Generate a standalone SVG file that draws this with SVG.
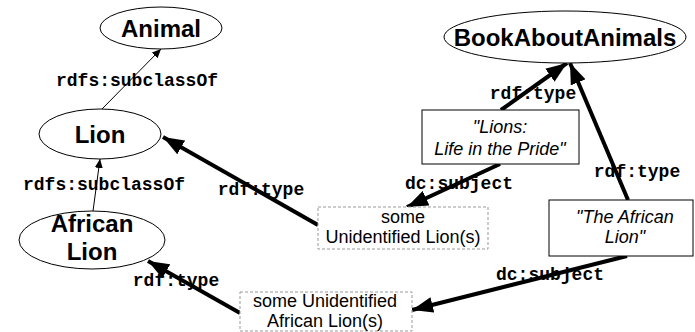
<svg xmlns="http://www.w3.org/2000/svg" width="695" height="332" viewBox="0 0 695 332">
<style>
.ell{fill:#fff;stroke:#000;stroke-width:1}
.box{fill:#fff;stroke:#000;stroke-width:1}
.dbox{fill:#fff;stroke:#999;stroke-width:1;stroke-dasharray:3,2}
.nt{font-family:"Liberation Sans",Arial,sans-serif;font-weight:bold;font-size:24px;text-anchor:middle;fill:#000}
.bt{font-family:"Liberation Sans",Arial,sans-serif;font-size:18px;text-anchor:middle;fill:#000}
.it{font-style:italic}
.lb{font-family:"Liberation Mono","Courier New",monospace;font-weight:bold;font-size:18px;text-anchor:middle;fill:#000}
.thin{stroke:#000;stroke-width:1;fill:none}
.thick{stroke:#000;stroke-width:4;fill:none}
</style>
<defs>
<marker id="ahs" markerUnits="userSpaceOnUse" markerWidth="10" markerHeight="8" refX="9" refY="4" orient="auto">
<path d="M0,0 L9,4 L0,8 Z" fill="#000"/>
</marker>
<marker id="ahb" markerUnits="userSpaceOnUse" markerWidth="22" markerHeight="16" refX="21" refY="8" orient="auto">
<path d="M0,0 L21,8 L0,16 Z" fill="#000"/>
</marker>
</defs>
<g id="connectors">
<line class="thin" x1="102" y1="109" x2="161" y2="49" marker-end="url(#ahs)"/>
<line class="thin" x1="93" y1="211" x2="100" y2="159" marker-end="url(#ahs)"/>
<line class="thick" x1="318" y1="225" x2="163" y2="137" marker-end="url(#ahb)"/>
<line class="thick" x1="240" y1="313" x2="148" y2="261" marker-end="url(#ahb)"/>
<line class="thick" x1="501" y1="110" x2="567" y2="63" marker-end="url(#ahb)"/>
<line class="thick" x1="628" y1="200" x2="570" y2="63" marker-end="url(#ahb)"/>
<line class="thick" x1="500" y1="164" x2="407" y2="207" marker-end="url(#ahb)"/>
<line class="thick" x1="627" y1="256" x2="412" y2="310" marker-end="url(#ahb)"/>
</g>
<g id="animal">
<ellipse class="ell" cx="161" cy="28" rx="61" ry="21"/>
<text class="nt" x="161" y="37">Animal</text>
</g>
<g id="lion">
<ellipse class="ell" cx="100" cy="134" rx="61" ry="25"/>
<text class="nt" x="100" y="143">Lion</text>
</g>
<g id="africanlion">
<ellipse class="ell" cx="92" cy="240" rx="73" ry="29"/>
<text class="nt" x="92" y="232">African</text>
<text class="nt" x="92" y="260">Lion</text>
</g>
<g id="book">
<ellipse class="ell" cx="565" cy="37" rx="121" ry="26"/>
<text class="nt" x="565" y="46">BookAboutAnimals</text>
</g>
<g id="lionsbook">
<rect class="box" x="422" y="110" width="157" height="54"/>
<text class="bt it" x="500" y="133">"Lions:</text>
<text class="bt it" x="500" y="155">Life in the Pride"</text>
</g>
<g id="africanbook">
<rect class="box" x="549" y="200" width="144" height="56"/>
<text class="bt it" x="625" y="223">"The African</text>
<text class="bt it" x="625" y="243">Lion"</text>
</g>
<g id="somelion">
<rect class="dbox" x="318" y="207" width="170" height="42"/>
<text class="bt" x="403" y="223">some</text>
<text class="bt" x="403" y="243">Unidentified Lion(s)</text>
</g>
<g id="someafrican">
<rect class="dbox" x="240" y="292" width="172" height="39"/>
<text class="bt" x="325" y="307">some Unidentified</text>
<text class="bt" x="325" y="327">African Lion(s)</text>
</g>
<g id="labels">
<text class="lb" x="137" y="86">rdfs:subclassOf</text>
<text class="lb" x="104" y="190">rdfs:subclassOf</text>
<text class="lb" x="261" y="195">rdf:type</text>
<text class="lb" x="176" y="286">rdf:type</text>
<text class="lb" x="533" y="99">rdf:type</text>
<text class="lb" x="637" y="177">rdf:type</text>
<text class="lb" x="459" y="189">dc:subject</text>
<text class="lb" x="550" y="280">dc:subject</text>
</g>
</svg>
